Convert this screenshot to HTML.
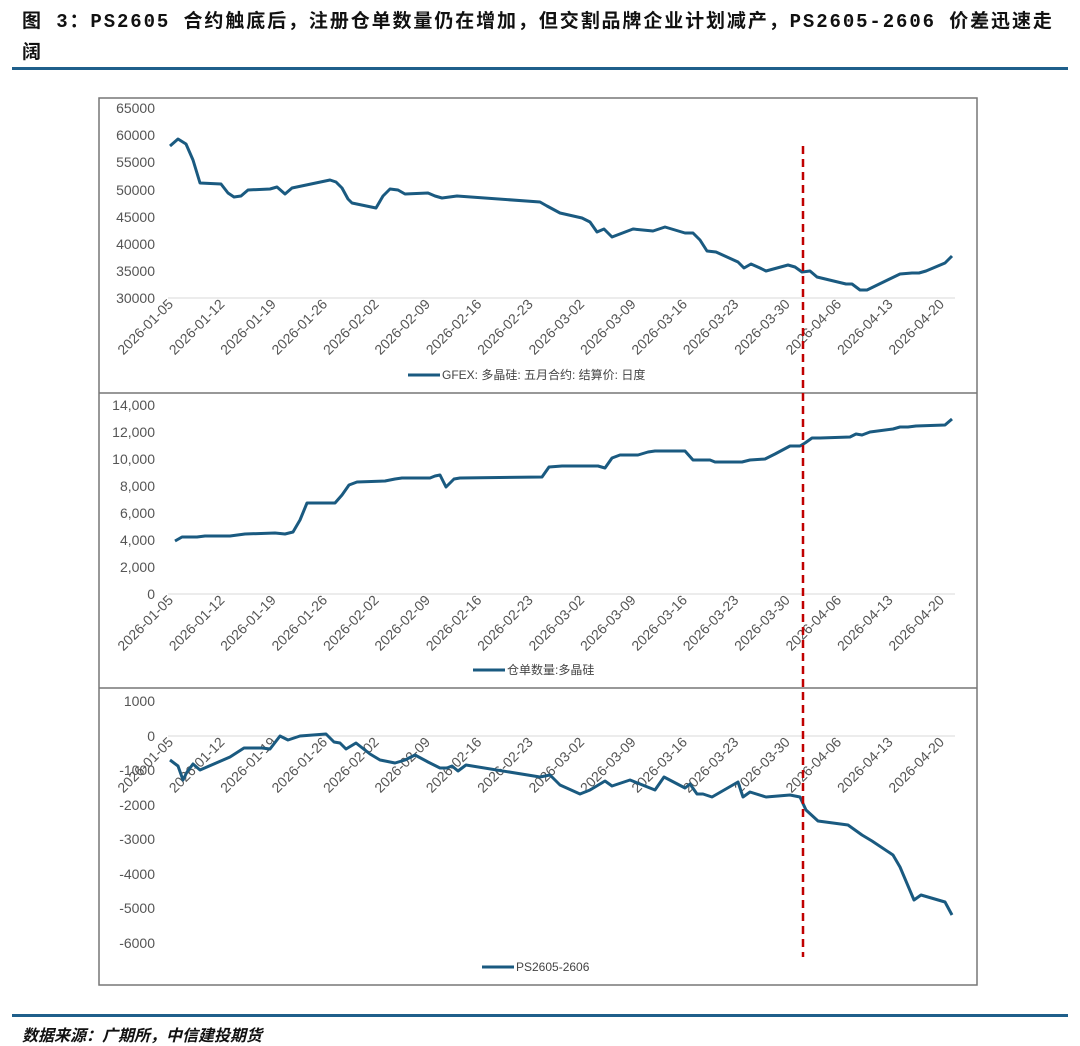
<!DOCTYPE html>
<html><head><meta charset="utf-8"><style>
body{margin:0;background:#fff;width:1080px;height:1046px;overflow:hidden;position:relative;font-family:"Liberation Sans","Noto Sans CJK SC",sans-serif}
.t{position:absolute;left:22px;font-family:"Liberation Mono","Noto Sans CJK SC",monospace;font-weight:bold;font-size:19px;color:#111;white-space:nowrap;letter-spacing:1.9px}
</style></head><body>
<div class="t" style="top:6px">图 3：PS2605 合约触底后，注册仓单数量仍在增加，但交割品牌企业计划减产，PS2605-2606 价差迅速走</div>
<div class="t" style="top:37px">阔</div>
<div style="position:absolute;left:12px;top:67px;width:1056px;height:3px;background:#1f5f8b"></div>
<div style="position:absolute;left:12px;top:1014px;width:1056px;height:3px;background:#1f5f8b"></div>
<div style="position:absolute;left:22px;top:1022px;font-size:16px;font-style:italic;font-weight:bold;color:#111;font-family:'Liberation Sans','Noto Sans CJK SC',sans-serif">数据来源：广期所，中信建投期货</div>
<svg width="1080" height="1046" style="position:absolute;left:0;top:0" font-family="Liberation Sans, Noto Sans CJK SC, sans-serif">
<g fill="none" stroke="#777" stroke-width="1.5">
<rect x="99" y="98" width="878" height="887"/>
<line x1="99" y1="393" x2="977" y2="393"/>
<line x1="99" y1="688" x2="977" y2="688"/>
</g>
<g stroke="#d9d9d9" stroke-width="1">
<line x1="168" y1="298" x2="955" y2="298"/>
<line x1="168" y1="594" x2="955" y2="594"/>
<line x1="168" y1="736" x2="955" y2="736"/>
</g>
<g font-size="14" fill="#555" text-anchor="end">
<text x="155" y="113">65000</text><text x="155" y="140">60000</text><text x="155" y="167">55000</text><text x="155" y="195">50000</text><text x="155" y="222">45000</text><text x="155" y="249">40000</text><text x="155" y="276">35000</text><text x="155" y="303">30000</text>
<text x="155" y="410">14,000</text><text x="155" y="437">12,000</text><text x="155" y="464">10,000</text><text x="155" y="491">8,000</text><text x="155" y="518">6,000</text><text x="155" y="545">4,000</text><text x="155" y="572">2,000</text><text x="155" y="599">0</text>
<text x="155" y="706">1000</text><text x="155" y="741">0</text><text x="155" y="775">-1000</text><text x="155" y="810">-2000</text><text x="155" y="844">-3000</text><text x="155" y="879">-4000</text><text x="155" y="913">-5000</text><text x="155" y="948">-6000</text>
</g>
<g id="ticks" font-size="14" fill="#555" text-anchor="end"></g>
<g fill="none" stroke="#1a5a80" stroke-width="3" stroke-linejoin="round">
<polyline points="170,146 178,139 186,144 193,160 200,183 221,184 228,193 234,197 241,196 248,190 270,189 277,187 285,194 292,188 330,180 336,182 342,188 348,199 352,203 376,208 383,196 390,189 398,190 405,194 428,193 435,196 442,198 457,196 540,202 547,206 560,213 582,218 590,222 597,232 604,229 612,237 633,229 653,231 665,227 685,233 693,233 700,240 707,251 716,252 738,262 744,268 751,264 760,268 766,271 788,265 795,267 802,272 810,271 817,277 846,284 852,284 860,290 867,290 900,274 912,273 919,273 926,271 945,263 952,256"/>
<polyline points="175,541 182,537 190,537 197,537 205,536 230,536 245,534 275,533 285,534 293,532 300,520 307,503 335,503 342,495 349,485 357,482 385,481 395,479 402,478 430,478 435,476 440,475 446,487 454,479 460,478 542,477 549,467 562,466 598,466 605,468 612,458 620,455 638,455 648,452 655,451 685,451 693,460 710,460 715,462 735,462 742,462 750,460 765,459 775,454 790,446 800,446 805,443 812,438 820,438 850,437 856,434 862,435 870,432 893,429 900,427 908,427 916,426 945,425 952,419"/>
<polyline points="170,760 178,766 183,780 187,772 193,764 200,770 230,757 244,748 262,748 270,749 280,736 288,740 300,736 326,734 334,742 340,743 346,749 356,743 370,754 380,760 395,763 405,760 415,755 428,762 440,768 447,768 452,766 458,771 466,765 540,777 550,775 560,785 580,794 590,790 605,781 612,786 630,780 655,790 664,777 685,788 690,784 697,794 703,794 712,797 738,782 743,797 750,792 766,797 790,795 800,797 806,810 818,821 848,825 855,830 862,835 872,841 893,855 900,867 914,900 921,895 945,902 952,915"/>
<line x1="408" y1="375" x2="440" y2="375"/>
<line x1="473" y1="670" x2="505" y2="670"/>
<line x1="482" y1="967" x2="514" y2="967"/>
</g>
<line x1="803" y1="146" x2="803" y2="957" stroke="#c00000" stroke-width="2.5" stroke-dasharray="8,5"/>
<g font-size="12" fill="#444">
<text x="442" y="379">GFEX: 多晶硅: 五月合约: 结算价: 日度</text>
<text x="507" y="674">仓单数量:多晶硅</text>
<text x="516" y="971">PS2605-2606</text>
</g>
</svg>
<script>
var g=document.getElementById('ticks'),lab=['2026-01-05','2026-01-12','2026-01-19','2026-01-26','2026-02-02','2026-02-09','2026-02-16','2026-02-23','2026-03-02','2026-03-09','2026-03-16','2026-03-23','2026-03-30','2026-04-06','2026-04-13','2026-04-20'];
var s='';[[305],[601],[743]].forEach(function(b){lab.forEach(function(l,i){var x=174+i*51.4,y=b[0];s+='<text transform="translate('+x+','+y+') rotate(-45)">'+l+'</text>';});});
g.innerHTML=s;
</script>
</body></html>
